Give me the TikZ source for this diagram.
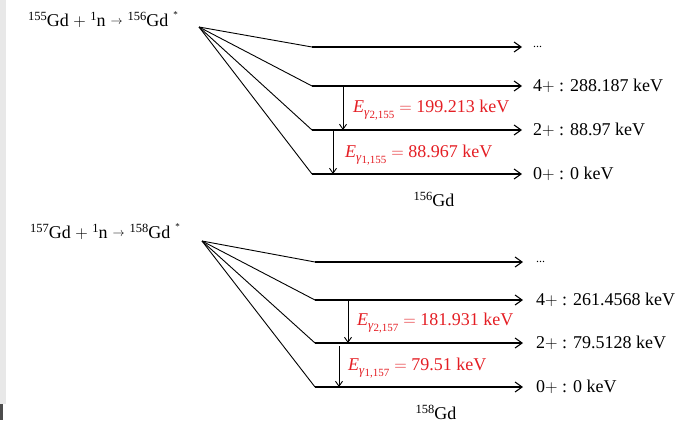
\documentclass[tikz,border=0pt]{standalone}
\usepackage{fontspec}
\setmainfont{Liberation Serif}
\usepackage{xcolor}
\usetikzlibrary{arrows.meta, positioning}
\definecolor{gdRed}{RGB}{228, 30, 36}
\definecolor{gdStrip}{RGB}{232, 232, 232}
% isotope with its mass number
\newcommand{\iso}[2]{\raisebox{5.5pt}{\fontsize{12.5}{12.5}\selectfont #1}#2}
% excited star and gamma energy symbol
\newcommand{\exst}{\hspace{5pt}\raisebox{9pt}{\fontsize{9}{9}\selectfont *}}
\newcommand{\egam}[1]{\textit{E}\raisebox{-4pt}{\fontsize{13}{13}\selectfont
  \textit{γ}\raisebox{-2.5pt}{\fontsize{11}{11}\selectfont #1}}\hspace{5pt}$=$ }
\newcommand{\rarr}{\hspace{5pt}\raisebox{2pt}{\fontsize{12}{12}\selectfont$\rightarrow$}\hspace{5pt}}

\begin{document}
\begin{tikzpicture}[x=1pt, y=-1pt,
    font=\fontsize{18}{22}\selectfont,
    level/.style={-{Straight Barb[length=7pt, width=10pt]}, line width=1.1pt},
    feed/.style={line width=0.9pt},
    gamma/.style={-{Straight Barb[length=5pt, width=7pt]}, line width=0.9pt},
    elbl/.style={text=gdRed, anchor=base west, inner sep=0pt},
    stlbl/.style={inner sep=0pt}]
    \useasboundingbox (0,0) rectangle (695,424);
    \fill[gdStrip] (0,0) rectangle (6,404);
    \fill[black!70] (0,404) rectangle (3,420);
    % Gd-155 capture
    \node[anchor=base west, inner sep=0pt] (reac155) at (28,26)
      {\iso{155}{Gd} $+$ \iso{1}{n}\rarr\iso{156}{Gd}\exst};
    \coordinate (src155) at (199,27);
    \foreach \lvl/\y/\txt in {%
      4/47/{\fontsize{12}{12}\selectfont ...},%
      3/86/{4$+$ : 288.187 keV},%
      2/130/{2$+$ : 88.97 keV},%
      1/174/{0$+$ : 0 keV}%
    }{%
      \coordinate (bend155-\lvl) at (312,\y);
      \coordinate (tip155-\lvl) at (522,\y);
      \draw[feed] (src155) -- (bend155-\lvl);
      \draw[level] (bend155-\lvl) -- (tip155-\lvl);
      \node[stlbl, right=11pt of tip155-\lvl] (lab155-\lvl) {\txt};
    }
    \coordinate (g2top155) at (343,86);
    \coordinate (g2bot155) at (343,130);
    \coordinate (g1top155) at (333,130);
    \coordinate (g1bot155) at (333,174);
    \draw[gamma] (g2top155) -- (g2bot155);
    \draw[gamma] (g1top155) -- (g1bot155);
    \node[elbl] (eg2155) at (353,112) {\egam{2,155}199.213 keV};
    \node[elbl] (eg1155) at (345,157) {\egam{1,155}88.967 keV};
    \node[anchor=base, inner sep=0pt] (prod156) at (434,206) {\iso{156}{Gd}};
    % Gd-157 capture
    \node[anchor=base west, inner sep=0pt] (reac157) at (30,238)
      {\iso{157}{Gd} $+$ \iso{1}{n}\rarr\iso{158}{Gd}\exst};
    \coordinate (src157) at (202,241);
    \foreach \lvl/\y/\txt in {%
      4/262/{\fontsize{12}{12}\selectfont ...},%
      3/300/{4$+$ : 261.4568 keV},%
      2/343/{2$+$ : 79.5128 keV},%
      1/387/{0$+$ : 0 keV}%
    }{%
      \coordinate (bend157-\lvl) at (315,\y);
      \coordinate (tip157-\lvl) at (523,\y);
      \draw[feed] (src157) -- (bend157-\lvl);
      \draw[level] (bend157-\lvl) -- (tip157-\lvl);
      \node[stlbl, right=13pt of tip157-\lvl] (lab157-\lvl) {\txt};
    }
    \coordinate (g2top157) at (348,300);
    \coordinate (g2bot157) at (348,343);
    \coordinate (g1top157) at (339,346);
    \coordinate (g1bot157) at (339,387);
    \draw[gamma] (g2top157) -- (g2bot157);
    \draw[gamma] (g1top157) -- (g1bot157);
    \node[elbl] (eg2157) at (357,325) {\egam{2,157}181.931 keV};
    \node[elbl] (eg1157) at (348,370) {\egam{1,157}79.51 keV};
    \node[anchor=base, inner sep=0pt] (prod158) at (436,419) {\iso{158}{Gd}};
\end{tikzpicture}
\end{document}
